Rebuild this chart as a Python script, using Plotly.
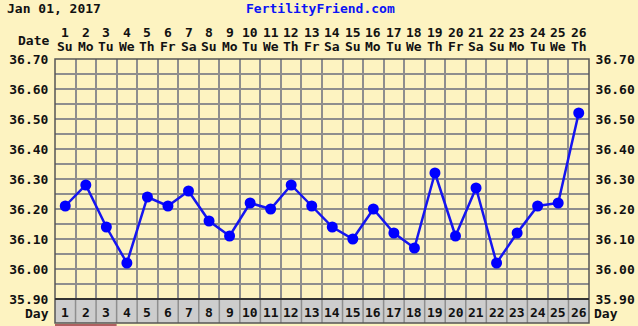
import plotly.graph_objects as go

days = list(range(1, 27))
weekdays = ["Su", "Mo", "Tu", "We", "Th", "Fr", "Sa", "Su", "Mo", "Tu", "We", "Th", "Fr",
            "Sa", "Su", "Mo", "Tu", "We", "Th", "Fr", "Sa", "Su", "Mo", "Tu", "We", "Th"]
temps = [36.21, 36.28, 36.14, 36.02, 36.24, 36.21, 36.26, 36.16, 36.11, 36.22, 36.20, 36.28, 36.21,
         36.14, 36.10, 36.20, 36.12, 36.07, 36.32, 36.11, 36.27, 36.02, 36.12, 36.21, 36.22, 36.52]
y_ticks = [35.90, 36.00, 36.10, 36.20, 36.30, 36.40, 36.50, 36.60, 36.70]
period_days = [1, 2, 3]
title_text = "Jan 01, 2017"
site_text = "FertilityFriend.com"

BG = "#FDF3C1"
GRID = "#8E8E8E"
FONT = dict(family="DejaVu Sans Mono", size=13, color="#111111")
BLUE = "#1515F0"

W, H = 638, 326
L, R, T, B = 55, 49, 59, 27
plot_h = H - T - B
plot_w = W - L - R

def py(y_px):
    return (H - B - y_px) / plot_h

fig = go.Figure()
fig.add_trace(go.Scatter(
    x=days, y=temps, mode="lines+markers",
    line=dict(color=BLUE, width=2.5),
    marker=dict(color="#0000FF", size=11),
    hoverinfo="skip", showlegend=False,
))
fig.add_trace(go.Scatter(x=days, y=temps, yaxis="y2", mode="markers",
                         marker=dict(opacity=0), hoverinfo="skip", showlegend=False))

tick_txt = [f"<b>{v:.2f}</b>" for v in y_ticks]
fig.update_layout(
    width=W, height=H,
    margin=dict(l=L, r=R, t=T, b=B, autoexpand=False),
    paper_bgcolor=BG, plot_bgcolor=BG,
    font=FONT,
    xaxis=dict(range=[0.5, 26.5], tick0=0.5, dtick=1, showgrid=True, gridcolor=GRID,
               gridwidth=1.5, showticklabels=False, zeroline=False, ticks="",
               showline=False, fixedrange=True, automargin=False),
    yaxis=dict(range=[35.9, 36.7], tickvals=y_ticks, ticktext=tick_txt, showgrid=True,
               gridcolor=GRID, gridwidth=1.5, zeroline=False, ticks="outside", ticklen=3,
               tickcolor=BG, automargin=False,
               minor=dict(dtick=0.05, tick0=35.9, showgrid=True, gridcolor=GRID, gridwidth=1.5),
               fixedrange=True),
    yaxis2=dict(range=[35.9, 36.7], tickvals=y_ticks, ticktext=tick_txt, overlaying="y",
                side="right", showgrid=False, zeroline=False, ticks="outside", ticklen=3,
                tickcolor=BG, fixedrange=True, automargin=False),
)

shapes = []
# gray day row
shapes.append(dict(type="rect", xref="paper", yref="paper", x0=0, x1=1, y0=py(323), y1=0,
                   fillcolor="#CDCDCD", line=dict(width=0), layer="below"))
for d in days[:-1]:
    shapes.append(dict(type="line", xref="x", yref="paper", x0=d + 0.5, x1=d + 0.5,
                       y0=py(323), y1=0, line=dict(color=GRID, width=1.5)))
# period marker line
shapes.append(dict(type="line", xref="x", yref="paper", x0=min(period_days) - 0.5,
                   x1=max(period_days) + 0.5, y0=py(325), y1=py(325),
                   line=dict(color="#B06060", width=2)))
# borders
shapes.append(dict(type="rect", xref="paper", yref="paper", x0=0, x1=1, y0=py(323), y1=1,
                   line=dict(color="#555555", width=1.5)))
shapes.append(dict(type="line", xref="paper", yref="paper", x0=0, x1=1, y0=0, y1=0,
                   line=dict(color="#333333", width=2)))
fig.update_layout(shapes=shapes)

ann = []
ann.append(dict(text=f"<b>{title_text}</b>", xref="paper", yref="paper", x=(5 - L) / plot_w,
                y=py(8), xanchor="left", yanchor="middle", showarrow=False))
ann.append(dict(text=f"<b>{site_text}</b>", xref="paper", yref="paper", x=(320 - L) / plot_w,
                y=py(8), xanchor="center", yanchor="middle", showarrow=False,
                font=dict(color="#0A14F5")))
ann.append(dict(text="<b>Date</b>", xref="paper", yref="paper", x=-4 / plot_w, y=py(40),
                xanchor="right", yanchor="middle", showarrow=False))
ann.append(dict(text="<b>Day</b>", xref="paper", yref="paper", x=-4 / plot_w, y=py(313),
                xanchor="right", yanchor="middle", showarrow=False))
ann.append(dict(text="<b>Day</b>", xref="paper", yref="paper", x=1 + 3 / plot_w, y=py(313),
                xanchor="left", yanchor="middle", showarrow=False))
for d, wd in zip(days, weekdays):
    ann.append(dict(text=f"<b>{d}</b>", xref="x", yref="paper", x=d, y=py(33),
                    xanchor="center", yanchor="middle", showarrow=False))
    ann.append(dict(text=f"<b>{wd}</b>", xref="x", yref="paper", x=d, y=py(47),
                    xanchor="center", yanchor="middle", showarrow=False))
    ann.append(dict(text=f"<b>{d}</b>", xref="x", yref="paper", x=d, y=py(312),
                    xanchor="center", yanchor="middle", showarrow=False))
fig.update_layout(annotations=ann)

fig.write_html("out.html", config=dict(displayModeBar=False))
